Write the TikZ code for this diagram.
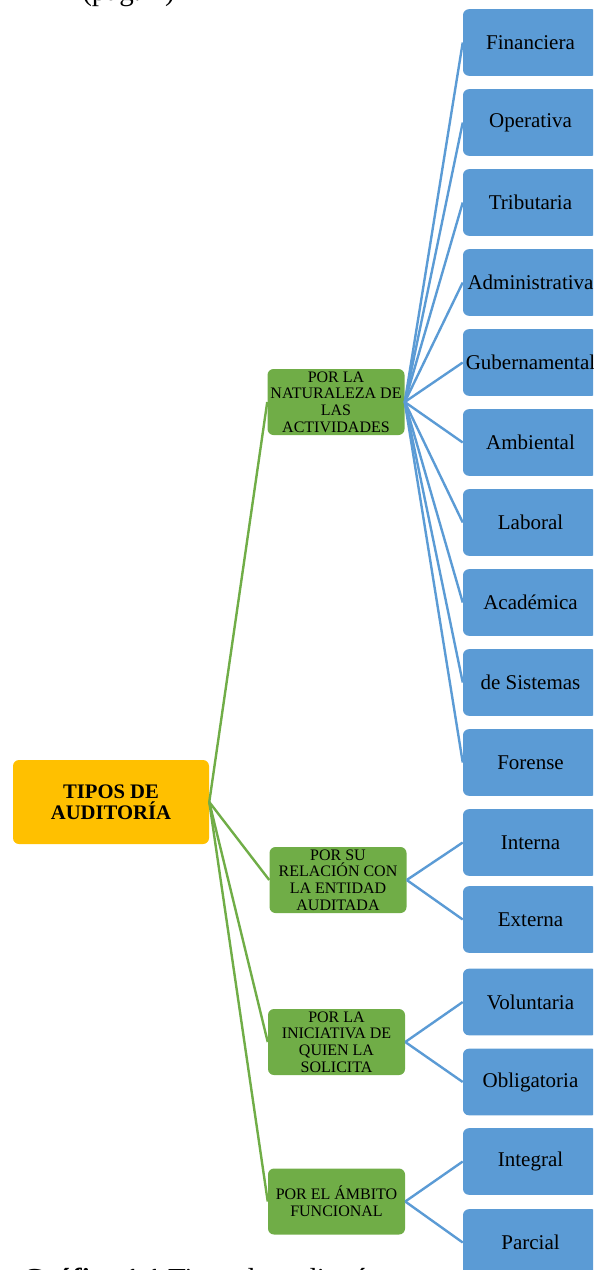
\documentclass[tikz,border=0pt]{standalone}
\usepackage{fontspec}
\setmainfont{Liberation Serif}
\usetikzlibrary{positioning}
\definecolor{leafblue}{RGB}{91,155,213}
\definecolor{catgreen}{RGB}{112,173,71}
\definecolor{rootgold}{RGB}{255,192,0}

\begin{document}
\begin{tikzpicture}[x=0.75pt, y=-0.75pt,
    leaf/.style={rectangle, rounded corners=4.5pt, fill=leafblue, inner sep=0pt,
                 minimum width=101.25pt, minimum height=50pt,
                 font=\fontsize{15.75}{18}\selectfont},
    cat/.style={rectangle, rounded corners=4.5pt, fill=catgreen, inner sep=0pt,
                minimum width=102.75pt, minimum height=49.5pt, align=center,
                font=\fontsize{12}{12.5}\selectfont},
    root/.style={rectangle, rounded corners=4.5pt, fill=rootgold, inner sep=0pt,
                 minimum width=147pt, minimum height=63pt, align=center,
                 font=\fontsize{15.5}{15.75}\selectfont\bfseries},
    tie/.style={line width=1.8pt, draw=#1},
    tie/.default=leafblue
]
\useasboundingbox (0,0) rectangle (593,1270);
\clip (0,0) rectangle (593,1270);

% text of the page, cut by the frame
\node[anchor=base west, inner sep=0pt, font=\fontsize{21.75}{26}\selectfont] (pg) at (82,1) {(pág. 7)};
\node[anchor=base west, inner sep=0pt, font=\fontsize{21.75}{26}\selectfont] (cap) at (22,1288) {\textbf{Gráfico 1.1} Tipos de auditoría};

% root and groups
\node[root] (tipos) at (111,802) {TIPOS DE\\AUDITORÍA};
\node[cat] (nat) at (336,402) {POR LA\\NATURALEZA DE\\LAS\\ACTIVIDADES};
\node[cat] (rel) at (338,880) {POR SU\\RELACIÓN CON\\LA ENTIDAD\\AUDITADA};
\node[cat] (ini) at (336.5,1042) {POR LA\\INICIATIVA DE\\QUIEN LA\\SOLICITA};
\node[cat] (amb) at (336.5,1201.5) {POR EL ÁMBITO\\FUNCIONAL};

% leaves
\node[leaf] (fin) at (530.5,42.5) {Financiera};
\node[leaf] (ope) at (530.5,122.5) {Operativa};
\node[leaf] (tri) at (530.5,202.5) {Tributaria};
\node[leaf] (adm) at (530.5,282.5) {Administrativa};
\node[leaf] (gub) at (530.5,362.5) {Gubernamental};
\node[leaf] (amt) at (530.5,442.5) {Ambiental};
\node[leaf] (lab) at (530.5,522.5) {Laboral};
\node[leaf] (aca) at (530.5,602.5) {Académica};
\node[leaf] (sis) at (530.5,682.5) {de Sistemas};
\node[leaf] (for) at (530.5,762.5) {Forense};
\node[leaf] (int) at (530.5,842.5) {Interna};
\node[leaf] (ext) at (530.5,919.5) {Externa};
\node[leaf] (vol) at (530.5,1002) {Voluntaria};
\node[leaf] (obl) at (530.5,1082) {Obligatoria};
\node[leaf] (itg) at (530.5,1161.5) {Integral};
\node[leaf] (par) at (530.5,1242.5) {Parcial};

% root to groups
\draw[tie=catgreen] (tipos.east) -- (nat.west);
\draw[tie=catgreen] (tipos.east) -- (rel.west);
\draw[tie=catgreen] (tipos.east) -- (ini.west);
\draw[tie=catgreen] (tipos.east) -- (amb.west);

% groups to leaves
\draw[tie] (nat.east) -- (fin.west);
\draw[tie] (nat.east) -- (ope.west);
\draw[tie] (nat.east) -- (tri.west);
\draw[tie] (nat.east) -- (adm.west);
\draw[tie] (nat.east) -- (gub.west);
\draw[tie] (nat.east) -- (amt.west);
\draw[tie] (nat.east) -- (lab.west);
\draw[tie] (nat.east) -- (aca.west);
\draw[tie] (nat.east) -- (sis.west);
\draw[tie] (nat.east) -- (for.west);
\draw[tie] (rel.east) -- (int.west);
\draw[tie] (rel.east) -- (ext.west);
\draw[tie] (ini.east) -- (vol.west);
\draw[tie] (ini.east) -- (obl.west);
\draw[tie] (amb.east) -- (itg.west);
\draw[tie] (amb.east) -- (par.west);
\end{tikzpicture}
\end{document}
